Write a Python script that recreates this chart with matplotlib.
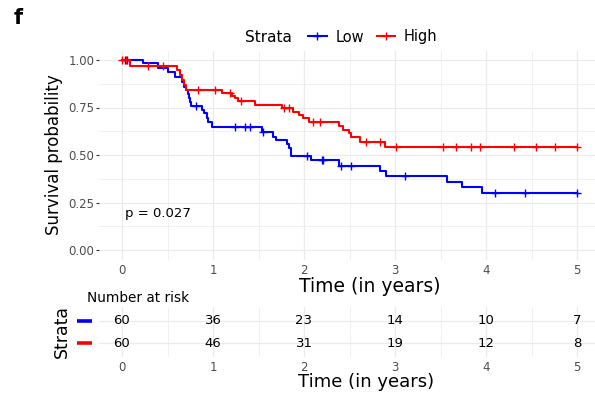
import numpy as np
import matplotlib
matplotlib.use("Agg")
import matplotlib.pyplot as plt
from matplotlib.lines import Line2D
from matplotlib.transforms import blended_transform_factory

plt.rcParams['font.family'] = ['DejaVu Sans']

# ---- DATA ----
low_t = [0, 0.23, 0.40, 0.51, 0.58, 0.66, 0.68, 0.70, 0.72, 0.735, 0.75, 0.76,
         0.876, 0.905, 0.93, 0.95, 0.985, 1.535, 1.66, 1.69, 1.81, 1.835, 1.857,
         2.08, 2.39, 2.835, 2.90, 3.57, 3.74, 3.96, 5.0]
low_s = [1.0, 0.986, 0.956, 0.938, 0.912, 0.886, 0.86, 0.84, 0.82, 0.80, 0.78, 0.756,
         0.737, 0.72, 0.695, 0.675, 0.649, 0.623, 0.596, 0.579, 0.56, 0.535, 0.495,
         0.472, 0.444, 0.415, 0.389, 0.36, 0.33, 0.30, 0.30]
low_cens = [0.03, 0.05, 0.81, 1.24, 1.35, 1.41, 1.55, 2.03, 2.195, 2.21, 2.41, 2.52,
            3.11, 4.10, 4.43, 5.0]

high_t = [0, 0.088, 0.60, 0.64, 0.66, 0.68, 0.70, 1.095, 1.205, 1.24, 1.28, 1.46,
          1.755, 1.88, 1.94, 1.99, 2.06, 2.38, 2.43, 2.49, 2.52, 2.615, 2.89, 5.0]
high_s = [1.0, 0.967, 0.947, 0.92, 0.895, 0.868, 0.842, 0.825, 0.81, 0.798, 0.784, 0.763,
          0.746, 0.728, 0.71, 0.696, 0.675, 0.653, 0.632, 0.614, 0.595, 0.570, 0.544, 0.544]
high_cens = [0.0, 0.04, 0.29, 0.45, 0.83, 1.02, 1.19, 1.31, 1.78, 1.83, 2.10, 2.18,
             2.68, 2.84, 3.01, 3.53, 3.67, 3.84, 3.93, 4.31, 4.55, 4.76, 5.0]

risk_times = [0, 1, 2, 3, 4, 5]
risk_low = [60, 36, 23, 14, 10, 7]
risk_high = [60, 46, 31, 19, 12, 8]

blue = '#0000FF'
red = '#FF0000'
grid_c = '#EBEBEB'
tick_c = '#4D4D4D'


def surv_at(times, surv, t):
    i = np.searchsorted(times, t, side='right') - 1
    return np.asarray(surv)[i]


fig = plt.figure(figsize=(5.95, 3.93), dpi=100)
W, H = 595, 393

# ---- SURVIVAL PLOT ----
ax = fig.add_axes([99.25 / W, 1 - 259.5 / H, 500.5 / W, 209 / H])
ax.set_xlim(-0.25, 5.25)
ax.set_ylim(-0.05, 1.05)
ax.set_xticks(range(6))
ax.set_xticks(np.arange(0.5, 5, 1), minor=True)
ax.set_yticks([0, 0.25, 0.5, 0.75, 1.0])
ax.set_yticklabels(['0.00', '0.25', '0.50', '0.75', '1.00'])
ax.set_yticks([0.125, 0.375, 0.625, 0.875], minor=True)
ax.grid(True, which='major', color=grid_c, lw=0.9)
ax.grid(True, which='minor', color=grid_c, lw=0.5)
ax.set_axisbelow(True)
for sp in ax.spines.values():
    sp.set_visible(False)
ax.tick_params(axis='x', which='both', length=0, labelsize=8.5, labelcolor=tick_c, pad=3)
ax.tick_params(axis='y', which='major', length=2.5, width=0.8, color='#333333',
               labelsize=8.5, labelcolor=tick_c, pad=1)
ax.tick_params(axis='y', which='minor', length=0)

for t, s, cens, c in [(low_t, low_s, low_cens, blue), (high_t, high_s, high_cens, red)]:
    ax.plot(t, s, drawstyle='steps-post', color=c, lw=1.5)
    ax.plot(cens, surv_at(t, s, cens), ls='none', marker='+', ms=6, mew=1.0, color=c)

ax.text(0.03, 0.19, 'p = 0.027', fontsize=9.5, va='center', ha='left')
ax.set_ylabel('Survival probability', fontsize=12, labelpad=4)
fig.text(370 / W, 1 - 286 / H, 'Time (in years)', fontsize=13.5, ha='center', va='center')

# legend on top
fig.text(268 / W, 1 - 38 / H, 'Strata', fontsize=11, ha='center', va='center')
handles = [Line2D([], [], color=blue, lw=1.5, marker='+', ms=6, mew=1.0),
           Line2D([], [], color=red, lw=1.5, marker='+', ms=6, mew=1.0)]
fig.legend(handles, ['Low', 'High'], ncol=2, frameon=False, fontsize=10.5,
           loc='center left', bbox_to_anchor=(301 / W, 1 - 37 / H),
           handlelength=1.25, handletextpad=0.6, columnspacing=0.9, borderpad=0)

fig.text(14 / W, 1 - 18 / H, 'f', fontsize=15, fontweight='bold', ha='left', va='center')

# ---- RISK TABLE ----
tb = fig.add_axes([99.25 / W, 1 - 357 / H, 500.5 / W, 50 / H])
tb.set_xlim(-0.25, 5.25)
tb.set_ylim(-0.6, 1.6)
tb.set_xticks(range(6))
tb.set_xticks(np.arange(0.5, 5, 1), minor=True)
tb.set_yticks([0, 1])
tb.set_yticklabels(['', ''])
tb.grid(True, which='major', color=grid_c, lw=0.9)
tb.grid(True, which='minor', axis='x', color=grid_c, lw=0.5)
tb.set_axisbelow(True)
for sp in tb.spines.values():
    sp.set_visible(False)
tb.tick_params(axis='both', which='both', length=0)
tb.tick_params(axis='x', labelsize=8.5, labelcolor=tick_c, pad=3)

for x, a, b in zip(risk_times, risk_low, risk_high):
    tb.text(x, 1, str(a), ha='center', va='center', fontsize=9.5)
    tb.text(x, 0, str(b), ha='center', va='center', fontsize=9.5)

tr = blended_transform_factory(fig.transFigure, tb.transData)
for y, c in [(1, blue), (0, red)]:
    tb.plot([77 / W, 92 / W], [y, y], transform=tr, color=c, lw=2.6,
            solid_capstyle='butt', clip_on=False)

fig.text(366 / W, 1 - 382 / H, 'Time (in years)', fontsize=13, ha='center', va='center')
tb.set_ylabel('Strata', fontsize=12.5, labelpad=17)
fig.text(87 / W, 1 - 298 / H, 'Number at risk', fontsize=9.8, ha='left', va='center')

fig.savefig('out.png', dpi=100)
